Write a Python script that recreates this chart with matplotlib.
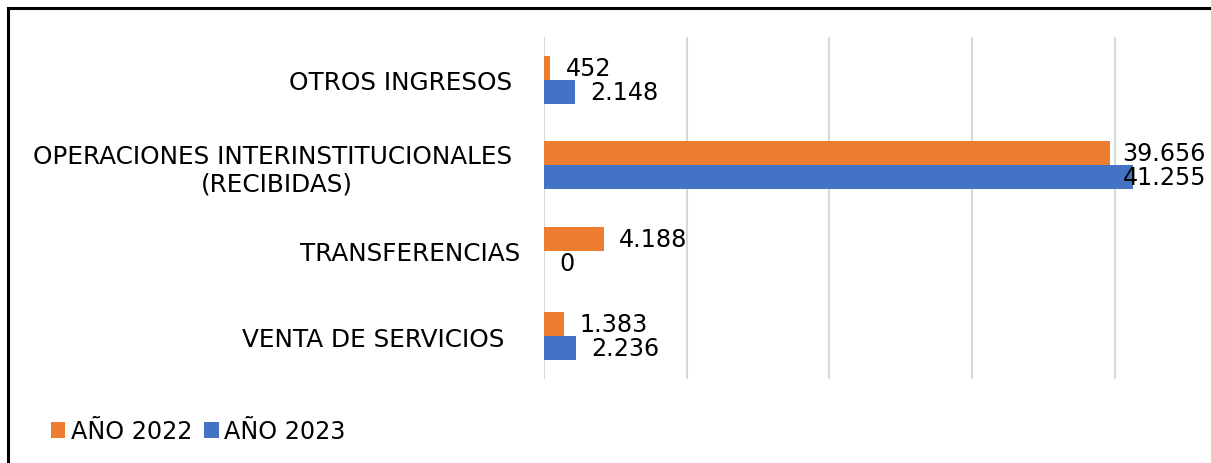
import matplotlib.pyplot as plt
from matplotlib.lines import Line2D

categories = [
    "VENTA DE SERVICIOS  ",
    "TRANSFERENCIAS",
    "OPERACIONES INTERINSTITUCIONALES \n(RECIBIDAS)",
    "OTROS INGRESOS ",
]
values_2022 = [1383, 4188, 39656, 452]
values_2023 = [2236, 0, 41255, 2148]
series_names = ["AÑO 2022", "AÑO 2023"]
colors = ["#ED7D31", "#4472C4"]


def fmt(v):
    return f"{v:,}".replace(",", ".")


W, H = 1211, 464
fig = plt.figure(figsize=(W / 100, H / 100), dpi=100)
ax = fig.add_axes([544 / W, (H - 380) / H, 662 / W, 342 / H])

xmax = 46375
bar_h = 0.28
y = list(range(len(categories)))

for k, (vals, off) in enumerate([(values_2022, bar_h / 2), (values_2023, -bar_h / 2)]):
    ypos = [yy + off for yy in y]
    ax.barh(ypos, vals, height=bar_h, color=colors[k], label=series_names[k], zorder=3)
    for yy, v in zip(ypos, vals):
        label_w = 6000  # rough label width in data units
        if v + 1100 + label_w > xmax:
            ax.text(xmax, yy, fmt(v), ha="right", va="center", fontsize=17.2, zorder=4)
        else:
            ax.annotate(fmt(v), (v, yy), xytext=(11, 0), textcoords="offset points",
                        ha="left", va="center", fontsize=17.2, zorder=4)

ax.set_xlim(0, xmax)
ax.set_ylim(-0.5, len(categories) - 0.5)
ax.set_xticks(range(0, 50000, 10000))
ax.set_xticklabels([])
ax.grid(axis="x", color="#d9d9d9", linewidth=1.5, zorder=0)
ax.set_yticks(y)
ax.set_yticklabels(categories, fontsize=17.8, multialignment="center")
ax.tick_params(axis="both", length=0)
ax.tick_params(axis="y", pad=17)
for s in ax.spines.values():
    s.set_visible(False)

fig.legend(loc="lower left", bbox_to_anchor=(41 / W, 10 / H), ncol=2, frameon=False,
           fontsize=17.2, handlelength=0.6, handleheight=0.6, handletextpad=0.25,
           columnspacing=0.5, borderaxespad=0)

# frame lines (left and top)
fig.add_artist(Line2D([8 / W, 8 / W], [0, 1 - 9 / H], color="black", linewidth=2.2))
fig.add_artist(Line2D([8 / W, 1], [1 - 9 / H, 1 - 9 / H], color="black", linewidth=2.2))

fig.savefig("out.png", dpi=100)
